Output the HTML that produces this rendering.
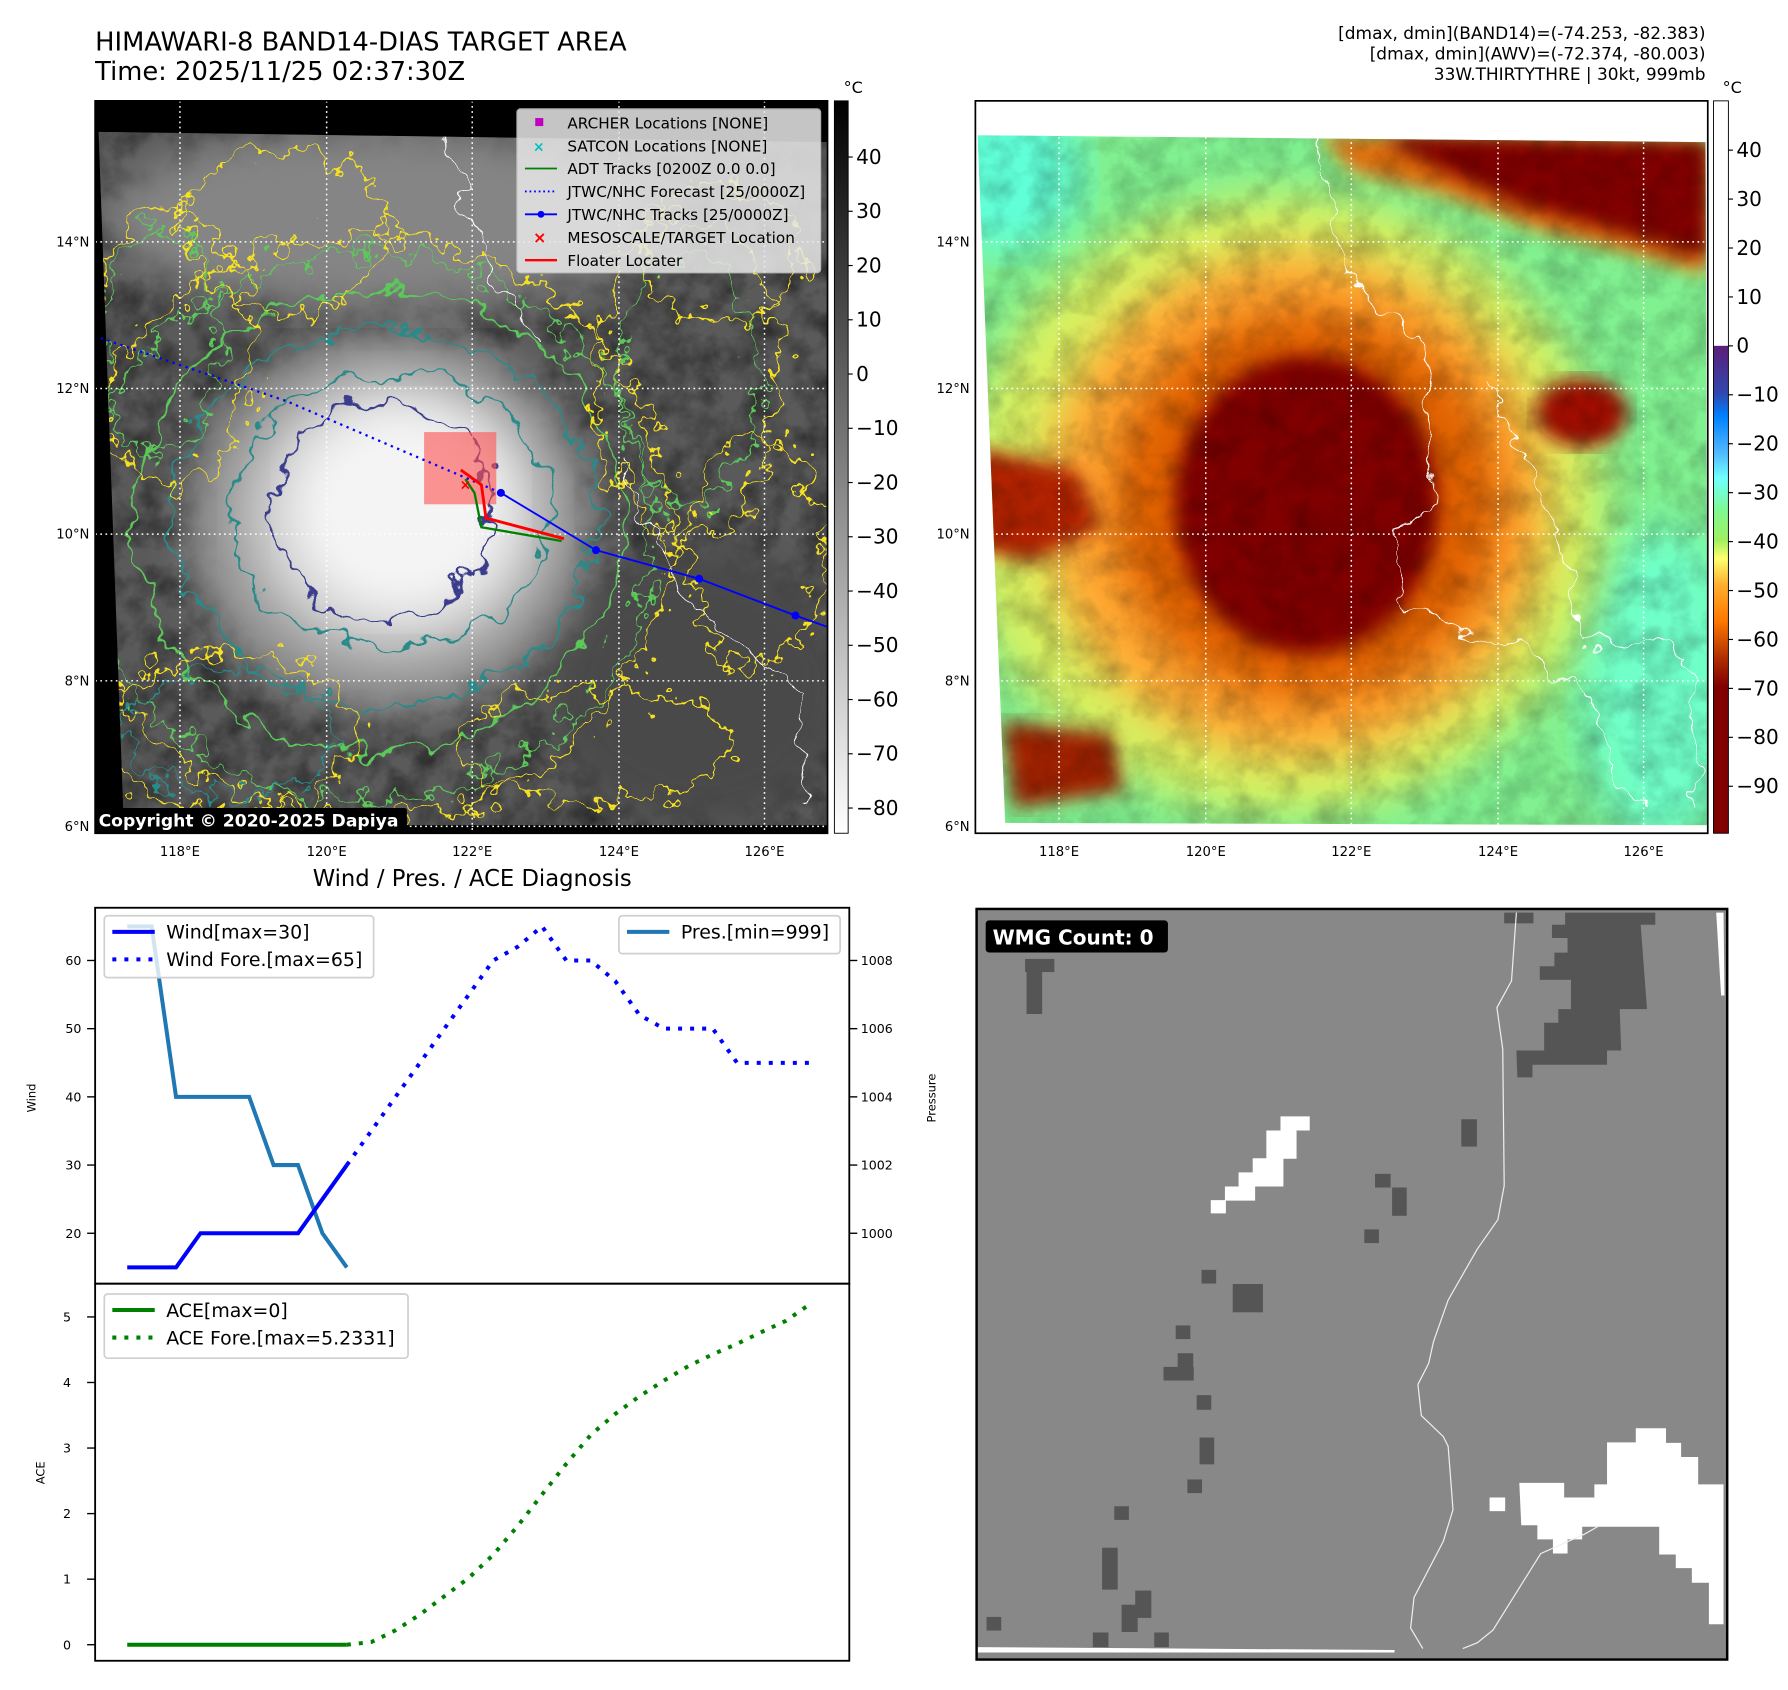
<!DOCTYPE html>
<html><head><meta charset="utf-8">
<style>
html,body{margin:0;padding:0;background:#fff;}
svg{display:block;font-family:"DejaVu Sans","Liberation Sans",sans-serif;}
</style></head>
<body>
<svg id="page" width="1788" height="1690" viewBox="0 0 1560 1474.5" xmlns="http://www.w3.org/2000/svg">
<defs>
  <clipPath id="clipL"><polygon points="86,115 722,124 722,720 108,720"/></clipPath>
  <clipPath id="clipR"><polygon points="853,118 1488,124 1490,720 877,718"/></clipPath>
  <filter id="blur8"><feGaussianBlur stdDeviation="8"/></filter>
  <filter id="blur18"><feGaussianBlur stdDeviation="18"/></filter>
  <filter id="wig" x="-20%" y="-20%" width="140%" height="140%">
    <feTurbulence type="fractalNoise" baseFrequency="0.035" numOctaves="3" seed="4" result="n"/>
    <feDisplacementMap in="SourceGraphic" in2="n" scale="38" xChannelSelector="R" yChannelSelector="G"/>
  </filter>
  <filter id="wig2" x="-20%" y="-20%" width="140%" height="140%">
    <feTurbulence type="fractalNoise" baseFrequency="0.05" numOctaves="3" seed="9" result="n"/>
    <feDisplacementMap in="SourceGraphic" in2="n" scale="55" xChannelSelector="R" yChannelSelector="G"/>
  </filter>
  <filter id="tex" x="0" y="0" width="100%" height="100%">
    <feTurbulence type="fractalNoise" baseFrequency="0.04" numOctaves="4" seed="2"/>
    <feColorMatrix type="matrix" values="0 0 0 0 0  0 0 0 0 0  0 0 0 0 0  0.9 0.9 0.9 0 -1.1"/>
  </filter>
  <linearGradient id="cbL" x1="0" y1="0" x2="0" y2="1">
    <stop offset="0" stop-color="#000"/><stop offset="1" stop-color="#fff"/>
  </linearGradient>
  <linearGradient id="cbR" x1="0" y1="0" x2="0" y2="1">
    <stop offset="0" stop-color="#fff"/>
    <stop offset="0.334" stop-color="#fff"/>
    <stop offset="0.335" stop-color="#5c1f78"/>
    <stop offset="0.40" stop-color="#3048b0"/>
    <stop offset="0.43" stop-color="#0080ff"/>
    <stop offset="0.48" stop-color="#50b8ff"/>
    <stop offset="0.515" stop-color="#70ffff"/>
    <stop offset="0.56" stop-color="#80f890"/>
    <stop offset="0.60" stop-color="#a0f060"/>
    <stop offset="0.625" stop-color="#ffff70"/>
    <stop offset="0.66" stop-color="#ffb030"/>
    <stop offset="0.71" stop-color="#ff7800"/>
    <stop offset="0.76" stop-color="#b03000"/>
    <stop offset="0.80" stop-color="#800000"/>
    <stop offset="1" stop-color="#800000"/>
  </linearGradient>
</defs>

<!-- Titles -->
<text x="83" y="44" font-size="22.5">HIMAWARI-8 BAND14-DIAS TARGET AREA</text>
<text x="83" y="70" font-size="22.5">Time: 2025/11/25 02:37:30Z</text>
<g font-size="14.8" text-anchor="end">
  <text x="1488" y="34">[dmax, dmin](BAND14)=(-74.253, -82.383)</text>
  <text x="1488" y="52">[dmax, dmin](AWV)=(-72.374, -80.003)</text>
  <text x="1488" y="70">33W.THIRTYTHRE | 30kt, 999mb</text>
</g>

<!-- LEFT MAP -->
<g>
  <rect x="83" y="88" width="639" height="639" fill="#000"/>
  <g clip-path="url(#clipL)">
    <rect x="80" y="110" width="650" height="620" fill="#5a5a5a"/>
    <rect x="80" y="110" width="650" height="620" fill="#fff" filter="url(#tex)" opacity="0.55"/>
    <ellipse cx="330" cy="190" rx="240" ry="80" fill="#858585" filter="url(#blur18)"/>
    <ellipse cx="610" cy="600" rx="130" ry="120" fill="#484848" filter="url(#blur18)"/>
    <ellipse cx="340" cy="455" rx="175" ry="165" fill="#9a9a9a" filter="url(#blur18)"/>
    <ellipse cx="345" cy="450" rx="130" ry="120" fill="#d0d0d0" filter="url(#blur18)"/>
    <ellipse cx="350" cy="445" rx="95" ry="90" fill="#f4f4f4" filter="url(#blur18)"/>
    <g fill="none" stroke-width="2">
      <ellipse cx="320" cy="460" rx="265" ry="255" stroke="#f5e020" filter="url(#wig2)"/>
      <ellipse cx="320" cy="460" rx="250" ry="240" stroke="#5cc85a" filter="url(#wig2)"/>
      <ellipse cx="330" cy="455" rx="215" ry="200" stroke="#5cc85a" filter="url(#wig)"/>
      <ellipse cx="335" cy="450" rx="185" ry="165" stroke="#2a8a8a" filter="url(#wig)"/>
      <ellipse cx="340" cy="445" rx="140" ry="120" stroke="#2a8a8a" filter="url(#wig)"/>
      <ellipse cx="335" cy="445" rx="95" ry="95" stroke="#3a3e8c" filter="url(#wig)"/>
      <ellipse cx="150" cy="300" rx="70" ry="120" stroke="#f5e020" filter="url(#wig2)"/>
      <ellipse cx="140" cy="300" rx="50" ry="100" stroke="#5cc85a" filter="url(#wig2)"/>
      <ellipse cx="600" cy="330" rx="80" ry="140" stroke="#f5e020" filter="url(#wig2)"/>
      <ellipse cx="600" cy="330" rx="60" ry="110" stroke="#5cc85a" filter="url(#wig2)"/>
      <ellipse cx="200" cy="640" rx="110" ry="70" stroke="#f5e020" filter="url(#wig2)"/>
      <ellipse cx="200" cy="640" rx="90" ry="55" stroke="#2a8a8a" filter="url(#wig2)"/>
      <ellipse cx="520" cy="650" rx="120" ry="50" stroke="#f5e020" filter="url(#wig2)"/>
      <ellipse cx="660" cy="480" rx="60" ry="100" stroke="#f5e020" filter="url(#wig2)"/>
      <ellipse cx="250" cy="200" rx="90" ry="70" stroke="#f5e020" filter="url(#wig2)"/>
      <ellipse cx="630" cy="220" rx="70" ry="60" stroke="#f5e020" filter="url(#wig2)"/>
      <path d="M545,400 L560,440 L575,470 L590,520 L640,560 L700,600 L705,700" stroke="#fff" stroke-width="1" filter="url(#wig)"/>
      <path d="M385,95 L400,170 L430,240 L470,300" stroke="#fff" stroke-width="1" filter="url(#wig)"/>
    </g>
  </g>
  <g stroke="#fff" stroke-width="1.3" stroke-dasharray="1.5 3">
    <line x1="157" y1="88" x2="157" y2="727"/><line x1="285" y1="88" x2="285" y2="727"/>
    <line x1="412" y1="88" x2="412" y2="727"/><line x1="540" y1="88" x2="540" y2="727"/>
    <line x1="667" y1="88" x2="667" y2="727"/>
    <line x1="83" y1="211" x2="722" y2="211"/><line x1="83" y1="339" x2="722" y2="339"/>
    <line x1="83" y1="466" x2="722" y2="466"/><line x1="83" y1="594" x2="722" y2="594"/>
    <line x1="83" y1="721" x2="722" y2="721"/>
  </g>
  <rect x="370" y="377" width="63" height="63" fill="#ff5050" opacity="0.6"/>
  <polyline points="88,295 250,350 437,430" fill="none" stroke="#0000ff" stroke-width="2" stroke-dasharray="2 4"/>
  <polyline points="437,430 520,480 610,505 694,537 722,547" fill="none" stroke="#0000ff" stroke-width="1.6"/>
  <g fill="#0000ff"><circle cx="437" cy="430" r="3.5"/><circle cx="520" cy="480" r="3.5"/><circle cx="610" cy="505" r="3.5"/><circle cx="694" cy="537" r="3.5"/></g>
  <polyline points="406,418 414,430 420,460 490,472" fill="none" stroke="#008000" stroke-width="2"/>
  <polyline points="402,410 420,423 424,452 492,470" fill="none" stroke="#ff0000" stroke-width="2.5"/>
  <text x="401" y="427" font-size="12" fill="#f00" font-weight="bold">×</text>
  <g>
    <rect x="451" y="95" width="265" height="143" rx="3" fill="#e8e8e8" opacity="0.85" stroke="#ccc"/>
    <g font-size="13.3">
      <rect x="467" y="103" width="7" height="7" fill="#c000c0"/>
      <text x="495" y="112">ARCHER Locations [NONE]</text>
      <text x="465" y="132" fill="#00c0c0" font-size="12" font-weight="bold">×</text>
      <text x="495" y="132">SATCON Locations [NONE]</text>
      <line x1="458" y1="147" x2="486" y2="147" stroke="#008000" stroke-width="1.6"/>
      <text x="495" y="152">ADT Tracks [0200Z 0.0 0.0]</text>
      <line x1="458" y1="167" x2="486" y2="167" stroke="#0000ff" stroke-width="1.6" stroke-dasharray="1.5 2.5"/>
      <text x="495" y="172">JTWC/NHC Forecast [25/0000Z]</text>
      <line x1="458" y1="187" x2="486" y2="187" stroke="#0000ff" stroke-width="1.6"/><circle cx="472" cy="187" r="3" fill="#0000ff"/>
      <text x="495" y="192">JTWC/NHC Tracks [25/0000Z]</text>
      <text x="465" y="212" fill="#f00" font-size="14" font-weight="bold">×</text>
      <text x="495" y="212">MESOSCALE/TARGET Location</text>
      <line x1="458" y1="227" x2="486" y2="227" stroke="#f00" stroke-width="2"/>
      <text x="495" y="232">Floater Locater</text>
    </g>
  </g>
  <rect x="83" y="88" width="639" height="639" fill="none" stroke="#000" stroke-width="1.5"/>
  <rect x="83" y="705" width="272" height="22" rx="2" fill="#000"/>
  <text x="86" y="721" font-size="15" font-weight="bold" fill="#fff">Copyright © 2020-2025 Dapiya</text>
  <g font-size="11.5" text-anchor="middle">
    <text x="157" y="747">118°E</text><text x="285" y="747">120°E</text><text x="412" y="747">122°E</text><text x="540" y="747">124°E</text><text x="667" y="747">126°E</text>
  </g>
  <g font-size="11.5" text-anchor="end">
    <text x="78" y="215">14°N</text><text x="78" y="343">12°N</text><text x="78" y="470">10°N</text><text x="78" y="598">8°N</text><text x="78" y="725">6°N</text>
  </g>
</g>

<!-- LEFT COLORBAR -->
<g>
  <rect x="728" y="88" width="12" height="639" fill="url(#cbL)" stroke="#000" stroke-width="0.8"/>
  <text x="736" y="81" font-size="14">°C</text>
  <g id="cbLticks" font-size="17.5"></g>
</g>

<!-- RIGHT MAP -->
<g>
  <rect x="851" y="88" width="639" height="639" fill="#fff"/>
  <g clip-path="url(#clipR)">
    <rect x="850" y="110" width="650" height="620" fill="#80f090"/>
    <ellipse cx="875" cy="150" rx="70" ry="70" fill="#60ffd8" filter="url(#blur18)"/>
    <ellipse cx="1450" cy="600" rx="70" ry="140" fill="#70ffc8" filter="url(#blur18)"/>
    <ellipse cx="1120" cy="440" rx="280" ry="270" fill="#d8f060" filter="url(#blur18)"/>
    <ellipse cx="1130" cy="440" rx="220" ry="220" fill="#ffa830" filter="url(#blur18)"/>
    <ellipse cx="1140" cy="440" rx="170" ry="170" fill="#e06000" filter="url(#blur18)"/>
    <ellipse cx="1140" cy="440" rx="115" ry="130" fill="#800000" filter="url(#blur8)"/>
    <path d="M1150,118 L1490,124 L1490,240 L1420,220 L1340,200 L1260,170 L1180,150 Z" fill="#e07010" filter="url(#blur8)"/>
    <path d="M1200,118 L1490,124 L1490,225 L1420,205 L1330,180 L1260,150 Z" fill="#800000" filter="url(#blur8)"/>
    <path d="M850,390 L940,410 L960,460 L900,490 L850,480 Z" fill="#b02000" filter="url(#blur8)"/>
    <path d="M875,630 L970,640 L980,690 L885,705 Z" fill="#a02000" filter="url(#blur8)"/>
    <ellipse cx="1380" cy="360" rx="40" ry="30" fill="#a01000" filter="url(#blur8)"/>
    <rect x="850" y="110" width="650" height="620" fill="#fff" filter="url(#tex)" opacity="0.25"/>
    <g fill="none" stroke="#fff" stroke-width="1">
      <path d="M1150,120 L1160,190 L1190,260 L1240,300 L1250,370 L1250,430 L1210,480 L1230,530 L1320,560 L1380,600 L1430,700" filter="url(#wig)"/>
      <path d="M1300,330 L1330,400 L1360,470 L1380,560 L1470,570 L1480,700" filter="url(#wig)"/>
    </g>
  </g>
  <g stroke="#fff" stroke-width="1.3" stroke-dasharray="1.5 3">
    <line x1="924" y1="88" x2="924" y2="727"/><line x1="1052" y1="88" x2="1052" y2="727"/>
    <line x1="1179" y1="88" x2="1179" y2="727"/><line x1="1307" y1="88" x2="1307" y2="727"/>
    <line x1="1434" y1="88" x2="1434" y2="727"/>
    <line x1="851" y1="211" x2="1490" y2="211"/><line x1="851" y1="339" x2="1490" y2="339"/>
    <line x1="851" y1="466" x2="1490" y2="466"/><line x1="851" y1="594" x2="1490" y2="594"/>
  </g>
  <rect x="851" y="88" width="639" height="639" fill="none" stroke="#000" stroke-width="1.5"/>
  <g font-size="11.5" text-anchor="middle">
    <text x="924" y="747">118°E</text><text x="1052" y="747">120°E</text><text x="1179" y="747">122°E</text><text x="1307" y="747">124°E</text><text x="1434" y="747">126°E</text>
  </g>
  <g font-size="11.5" text-anchor="end">
    <text x="846" y="215">14°N</text><text x="846" y="343">12°N</text><text x="846" y="470">10°N</text><text x="846" y="598">8°N</text><text x="846" y="725">6°N</text>
  </g>
</g>

<!-- RIGHT COLORBAR -->
<g>
  <rect x="1495" y="88" width="13" height="639" fill="url(#cbR)" stroke="#000" stroke-width="0.8"/>
  <text x="1503" y="81" font-size="14">°C</text>
  <g id="cbRticks" font-size="17.5"></g>
</g>

<!-- WMG PANEL -->
<g>
  <svg x="851" y="792" width="657" height="657" viewBox="0 0 1545 1545" preserveAspectRatio="none">
    <rect x="0" y="0" width="1545" height="1545" fill="#888"/>
    <g fill="#555">
      <polygon points="1210,10 1395,10 1395,35 1365,35 1378,208 1322,208 1325,293 1296,293 1296,322 1143,322 1143,348 1112,348 1110,293 1167,293 1167,236 1196,236 1196,208 1222,208 1222,148 1158,148 1158,120 1188,120 1188,92 1215,92 1215,62 1183,62 1183,35 1210,35"/>
      <rect x="1085" y="10" width="60" height="22"/>
      <rect x="102" y="105" width="60" height="27"/><rect x="105" y="130" width="32" height="88"/>
      <rect x="997" y="434" width="32" height="56"/><rect x="820" y="546" width="32" height="28"/>
      <rect x="855" y="574" width="30" height="58"/><rect x="798" y="660" width="30" height="28"/>
      <rect x="464" y="743" width="30" height="28"/><rect x="528" y="772" width="62" height="58"/>
      <rect x="411" y="857" width="30" height="28"/><rect x="415" y="914" width="32" height="30"/>
      <rect x="386" y="942" width="62" height="28"/><rect x="454" y="1000" width="30" height="30"/>
      <rect x="460" y="1087" width="30" height="55"/><rect x="435" y="1173" width="30" height="28"/>
      <rect x="285" y="1228" width="30" height="28"/><rect x="260" y="1313" width="32" height="86"/>
      <rect x="328" y="1401" width="33" height="56"/><rect x="300" y="1430" width="33" height="56"/>
      <rect x="23" y="1455" width="30" height="28"/><rect x="241" y="1487" width="32" height="30"/>
      <rect x="367" y="1487" width="30" height="30"/>
    </g>
    <g fill="#fff">
      <polygon points="626,428 686,428 686,457 659,457 659,515 632,515 632,572 574,572 574,601 514,601 514,627 483,627 483,600 512,600 512,572 540,572 540,543 569,543 569,514 597,514 597,457 626,457"/>
      <rect x="1055" y="1210" width="32" height="28"/>
      <polygon points="1116,1180 1208,1180 1208,1210 1270,1210 1270,1183 1296,1183 1296,1097 1355,1097 1355,1068 1417,1068 1417,1098 1448,1098 1448,1127 1483,1127 1483,1183 1535,1183 1535,1470 1505,1470 1505,1385 1470,1385 1470,1355 1437,1355 1437,1327 1403,1327 1403,1270 1245,1270 1245,1296 1215,1296 1215,1325 1185,1325 1185,1296 1153,1296 1153,1267 1120,1267"/>
      <polygon points="1520,10 1535,10 1537,180 1530,180"/>
      <polygon points="0,1517 860,1523 860,1528 0,1528"/>
    </g>
    <g fill="none" stroke="#eee" stroke-width="2.5">
      <path d="M1110,10 L1100,150 L1070,205 L1082,290 L1085,570 L1072,640 L1030,700 L970,805 L940,890 L930,935 L908,978 L915,1042 L960,1085 L970,1105 L980,1235 L960,1300 L900,1415 L893,1478 L918,1520"/>
      <path d="M1000,1520 L1030,1508 L1062,1482 L1160,1325 L1250,1285 L1280,1268"/>
    </g>
    <rect x="2" y="2" width="1541" height="1541" fill="none" stroke="#000" stroke-width="6"/>
  </svg>
  <rect x="860" y="803" width="159" height="28" rx="3" fill="#000"/>
  <text x="866" y="824" font-size="17.5" font-weight="bold" fill="#fff">WMG Count: 0</text>
</g>

<!-- DIAGNOSIS CHART -->
<text x="412" y="773" font-size="19.8" text-anchor="middle">Wind / Pres. / ACE Diagnosis</text>
<g id="chart"></g>
</svg>

<script>
// ---- chart data ----
const windObs = [15,15,15,20,20,20,20,20,25,30];
const windFcst = [30,35,40,45,50,55,60,62,65,60,60,57,52,50,50,50,45,45,45,45];
const presObs = [1009,1009,1004,1004,1004,1004,1002,1002,1000,999];
const aceObs = [0,0,0,0,0,0,0,0,0,0];
const aceFcst = [0,0.04,0.22,0.46,0.74,1.02,1.37,1.81,2.29,2.76,3.2,3.52,3.79,4.03,4.25,4.43,4.59,4.77,4.94,5.2];
const windTicks = [20,30,40,50,60];
const presTicks = [1000,1002,1004,1006,1008];
const aceTicks = [0,1,2,3,4,5];
const cbLTicks = [40,30,20,10,0,-10,-20,-30,-40,-50,-60,-70,-80];
const cbRTicks = [40,30,20,10,0,-10,-20,-30,-40,-50,-60,-70,-80,-90];

const NS = 'http://www.w3.org/2000/svg';
const chart = document.getElementById('chart');
const fcstStart = windObs.length - 1;
const nIdx = fcstStart + windFcst.length - 1;
function xIdx(i){ return 111 + i * (707 - 111) / nIdx; }
function yWind(w){ return 838 + (60 - w) * (1076 - 838) / 40; }
function yPres(p){ return 838 + (1008 - p) * (1076 - 838) / 8; }
function yAce(a){ return 1435 - a * (1435 - 1149) / 5; }
function yCbL(t){ return 137 + (40 - t) * (705 - 137) / 120; }
function yCbR(t){ return 131 + (40 - t) * (686 - 131) / 130; }
function mk(tag, attrs, parent){
  const e = document.createElementNS(NS, tag);
  for (const k in attrs) e.setAttribute(k, attrs[k]);
  (parent || chart).appendChild(e);
  return e;
}
function pts(arr, off, yf){ return arr.map((v,i)=>xIdx(i+off).toFixed(1)+','+yf(v).toFixed(1)).join(' '); }

let f1 = mk('rect',{x:83,y:792,width:658,height:328,fill:'none',stroke:'#000','stroke-width':1.6});


let f2 = mk('rect',{x:83,y:1120,width:658,height:329,fill:'none',stroke:'#000','stroke-width':1.6});



windTicks.forEach(t=>{
  const y = yWind(t);
  const l = mk('line',{x1:76,y1:y,x2:83,y2:y,stroke:'#000','stroke-width':1.2});
  
  
  const tx = mk('text',{x:71,y:y+4,'font-size':11,'text-anchor':'end'});
  tx.textContent = t;
  
  
});
presTicks.forEach(t=>{
  const y = yPres(t);
  const l = mk('line',{x1:741,y1:y,x2:748,y2:y,stroke:'#000','stroke-width':1.2});
  
  
  const tx = mk('text',{x:751,y:y+4,'font-size':11});
  tx.textContent = t;
  
  
});
aceTicks.forEach(t=>{
  const y = yAce(t);
  const l = mk('line',{x1:76,y1:y,x2:83,y2:y,stroke:'#000','stroke-width':1.2});
  
  
  const tx = mk('text',{x:62,y:y+4,'font-size':11,'text-anchor':'end'});
  tx.textContent = t;
  
  
});
let yl1 = mk('text',{x:0,y:0,'font-size':10,'text-anchor':'middle',transform:'translate(31,958) rotate(-90)'});
yl1.textContent='Wind';


let yl2 = mk('text',{x:0,y:0,'font-size':10,'text-anchor':'middle',transform:'translate(816,958) rotate(-90)'});
yl2.textContent='Pressure';


let yl3 = mk('text',{x:0,y:0,'font-size':10,'text-anchor':'middle',transform:'translate(39,1285) rotate(-90)'});
yl3.textContent='ACE';



let pl = mk('polyline',{points:pts(presObs,0,yPres),fill:'none',stroke:'#1f77b4','stroke-width':3.5});


let wl = mk('polyline',{points:pts(windObs,0,yWind),fill:'none',stroke:'#0000ff','stroke-width':3.5});


let wf = mk('polyline',{points:pts(windFcst,fcstStart,yWind),fill:'none',stroke:'#0000ff','stroke-width':3.5,'stroke-dasharray':'3.5 7'});


let al = mk('polyline',{points:pts(aceObs,0,yAce),fill:'none',stroke:'#008000','stroke-width':3.5});


let af = mk('polyline',{points:pts(aceFcst,fcstStart,yAce),fill:'none',stroke:'#008000','stroke-width':3.5,'stroke-dasharray':'3.5 7'});



function legend(x,y,w,h,items,name){
  const g = mk('g',{});
  
  
  mk('rect',{x:x,y:y,width:w,height:h,rx:3,fill:'#fff','fill-opacity':0.8,stroke:'#d0d0d0','stroke-width':1.5},g);
  items.forEach((it,k)=>{
    const yy = y+14+k*24;
    const ln = mk('line',{x1:x+7,y1:yy,x2:x+44,y2:yy,stroke:it.c,'stroke-width':3.5},g);
    if (it.d) ln.setAttribute('stroke-dasharray','3.5 7');
    const t = mk('text',{x:x+54,y:yy+6,'font-size':16.5},g);
    t.textContent = it.t;
  });
}
legend(91,799,235,54,[{c:'#0000ff',t:'Wind[max=30]'},{c:'#0000ff',t:'Wind Fore.[max=65]',d:1}],'wind-legend');
legend(540,799,193,33,[{c:'#1f77b4',t:'Pres.[min=999]'}],'pressure-legend');
legend(91,1129,265,56,[{c:'#008000',t:'ACE[max=0]'},{c:'#008000',t:'ACE Fore.[max=5.2331]',d:1}],'ace-legend');

const gL = document.getElementById('cbLticks');
cbLTicks.forEach(t=>{
  const y = yCbL(t);
  mk('line',{x1:740,y1:y,x2:744,y2:y,stroke:'#000','stroke-width':1},gL);
  const tx = mk('text',{x:747,y:y+6},gL);
  tx.textContent = t < 0 ? '\u2212' + (-t) : String(t);
  
  
});
const gR = document.getElementById('cbRticks');
cbRTicks.forEach(t=>{
  const y = yCbR(t);
  mk('line',{x1:1508,y1:y,x2:1512,y2:y,stroke:'#000','stroke-width':1},gR);
  const tx = mk('text',{x:1515,y:y+6},gR);
  tx.textContent = t < 0 ? '\u2212' + (-t) : String(t);
  
  
});
</script>
</body></html>
